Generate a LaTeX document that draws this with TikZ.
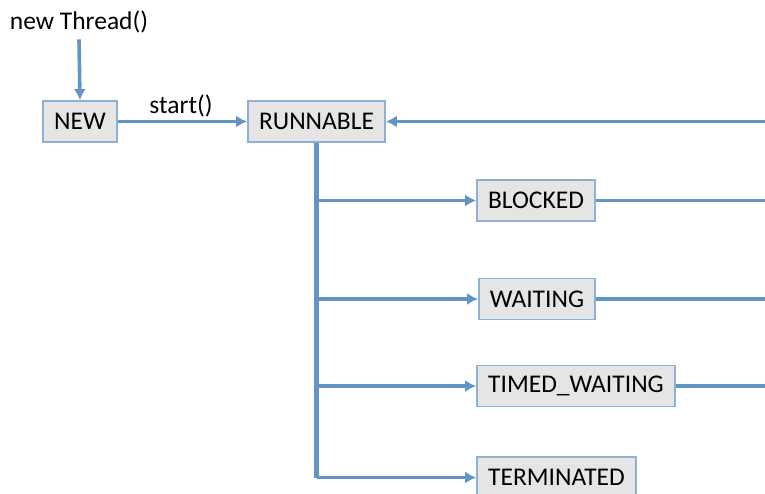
\documentclass[tikz,border=0pt]{standalone}
\usepackage{fontspec}
\setmainfont{Carlito}
\usetikzlibrary{arrows.meta}
\definecolor{linec}{HTML}{6494C6}
\definecolor{boxb}{HTML}{8CB0D6}
\definecolor{boxf}{HTML}{E5E5E5}
\tikzset{
  state/.style={draw=boxb, fill=boxf, line width=1.8pt, minimum height=41pt, inner xsep=10pt, inner ysep=0pt, font=\fontsize{25.5}{28}\selectfont, text=black},
  conn/.style={draw=linec, line width=3.6pt},
  trunk/.style={draw=linec, line width=4.4pt},
  arr/.style={conn, -{Latex[length=11pt,width=12pt]}},
  lbl/.style={font=\fontsize{25.5}{28}\selectfont, text=black, inner sep=0pt}
}
\begin{document}
\begin{tikzpicture}[x=1pt,y=-1pt]
\useasboundingbox (0,0) rectangle (765,493);
\node[lbl] (nt) at (79,22) {new Thread()};
\node[state, minimum width=74pt] (new) at (80,121.5) {NEW};
\node[state, minimum width=137pt] (run) at (316.5,121.5) {RUNNABLE};
\node[state, minimum width=118pt] (blk) at (536,200.5) {BLOCKED};
\node[state, minimum width=116pt] (wai) at (537,299) {WAITING};
\node[state, minimum width=198pt] (tw) at (576,386) {TIMED\_WAITING};
\node[state, minimum width=159pt] (ter) at (556.5,477.5) {TERMINATED};
\node[lbl] (st) at (181,106) {start()};
\coordinate (r0) at (770,121.5);
\coordinate (r1) at (770,200.5);
\coordinate (r2) at (770,299);
\coordinate (r3) at (770,386);
\coordinate (tb) at (run.south |- ter.west);
\draw[arr] (nt.south) ++(0,6) -- (new.north);
\draw[arr] (new.east) -- (run.west);
\draw[arr] (r0) -- (run.east);
\draw[trunk] (run.south) -- (tb);
\draw[arr] (tb) -- (ter.west);
\draw[arr] (run.south |- blk.west) -- (blk.west);
\draw[arr] (run.south |- wai.west) -- (wai.west);
\draw[arr] (run.south |- tw.west) -- (tw.west);
\draw[conn] (blk.east) -- (r1);
\draw[conn] (wai.east) -- (r2);
\draw[conn] (tw.east) -- (r3);
\end{tikzpicture}
\end{document}
